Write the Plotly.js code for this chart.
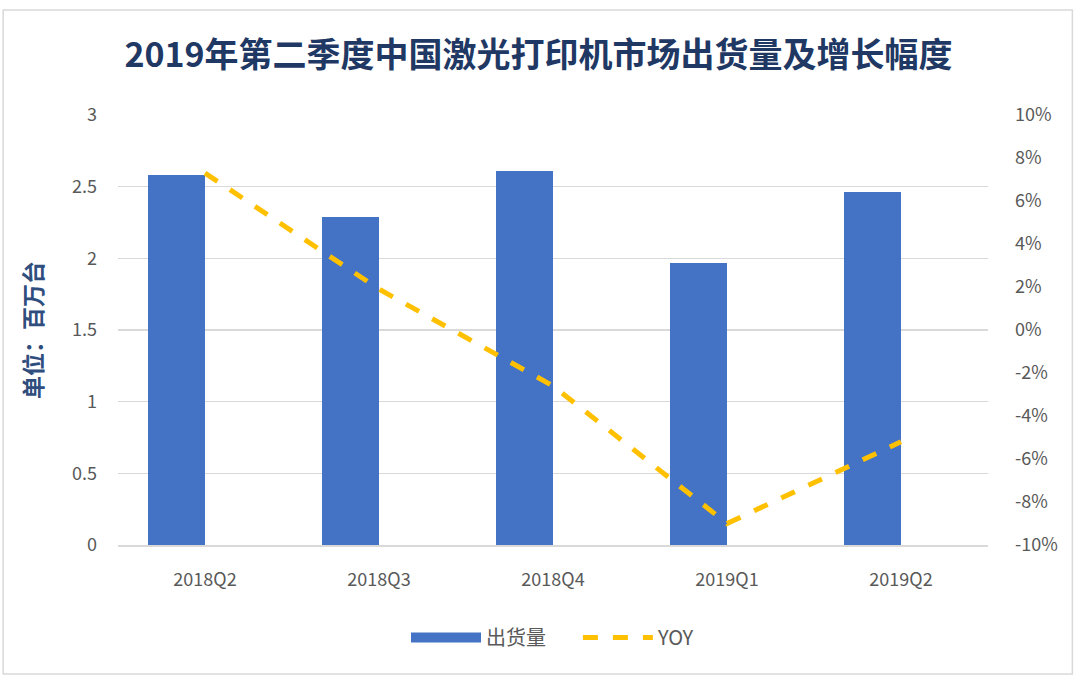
<!DOCTYPE html>
<html>
<head>
<meta charset="utf-8">
<script src="https://cdn.plot.ly/plotly-3.0.1.min.js"></script>
<style>
html,body{margin:0;padding:0;background:#fff;}
#chart{width:1077px;height:676px;}
</style>
</head>
<body>
<div id="chart"></div>
<script>
const categories = ["2018Q2", "2018Q3", "2018Q4", "2019Q1", "2019Q2"];
const shipments = [2.58, 2.29, 2.61, 1.97, 2.46];
const yoy = [7.3, 1.9, -2.6, -9.0, -5.2];
const leftTicks = [0, 0.5, 1, 1.5, 2, 2.5, 3];
const leftTickText = ["0", "0.5", "1", "1.5", "2", "2.5", "3"];
const rightTicks = [-10, -8, -6, -4, -2, 0, 2, 4, 6, 8, 10];
const rightTickText = ["-10%", "-8%", "-6%", "-4%", "-2%", "0%", "2%", "4%", "6%", "8%", "10%"];
const seriesNames = ["出货量", "YOY"];

const FONT = '"Noto Sans CJK SC", "Noto Sans", sans-serif';
const PAD = '\u00a0\u00a0\u00a0\u00a0\u00a0\u00a0';

const traces = [
  {
    type: 'bar',
    name: seriesNames[0],
    x: categories,
    y: shipments,
    marker: {color: '#4472C4'},
    width: 0.33,
    offset: -0.33,
    yaxis: 'y',
    showlegend: false,
    legendgroup: 'ship'
  },
  {
    type: 'scatter',
    mode: 'lines',
    name: seriesNames[0] + PAD,
    x: [null],
    y: [null],
    line: {color: '#4472C4', width: 16},
    yaxis: 'y',
    legendgroup: 'ship',
    showlegend: true
  },
  {
    type: 'scatter',
    mode: 'lines',
    name: seriesNames[1],
    x: categories,
    y: yoy,
    line: {color: '#FFC000', width: 5, dash: 'dash'},
    yaxis: 'y2'
  }
];

const layout = {
  width: 1077,
  height: 676,
  margin: {l: 118, r: 89, t: 115, b: 131},
  paper_bgcolor: '#ffffff',
  plot_bgcolor: '#ffffff',
  font: {family: FONT, color: '#595959', size: 18},
  title: {
    text: '<b>2019年第二季度中国激光打印机市场出货量及增长幅度</b>',
    x: 0.5, xanchor: 'center',
    y: 0.918, yanchor: 'middle',
    font: {family: FONT, size: 34, color: '#1F3864'}
  },
  xaxis: {
    type: 'category',
    showgrid: false,
    showline: true,
    linecolor: '#D9D9D9',
    linewidth: 1.5,
    ticks: '',
    tickfont: {size: 18, color: '#595959'},
    ticklabelstandoff: 18,
    zeroline: false
  },
  yaxis: {
    range: [0, 3],
    tickvals: leftTicks,
    ticktext: leftTickText,
    showgrid: true,
    gridcolor: '#D9D9D9',
    gridwidth: 1.5,
    zeroline: false,
    showline: false,
    ticks: '',
    tickfont: {size: 18, color: '#595959'},
    ticklabelstandoff: 20,
    title: {
      text: '<b>单位：百万台</b>',
      font: {size: 23, color: '#2F4E7E'},
      standoff: 22
    }
  },
  yaxis2: {
    overlaying: 'y',
    side: 'right',
    range: [-10, 10],
    tickvals: rightTicks,
    ticktext: rightTickText,
    showgrid: false,
    zeroline: false,
    showline: false,
    ticks: '',
    tickfont: {size: 18, color: '#595959'},
    ticklabelstandoff: 26
  },
  showlegend: true,
  legend: {
    orientation: 'h',
    x: 0.5, xanchor: 'center',
    y: -0.17, yanchor: 'top',
    font: {size: 20, color: '#595959'},
    itemwidth: 70,
    traceorder: 'normal'
  },
  bargap: 0,
  shapes: [
    {
      type: 'rect', xref: 'paper', yref: 'paper',
      x0: -0.132, x1: 1.097, y0: -0.3, y1: 1.244,
      line: {color: '#D9D9D9', width: 1.5},
      fillcolor: 'rgba(0,0,0,0)',
      layer: 'below'
    }
  ]
};

Plotly.newPlot('chart', traces, layout, {displayModeBar: false, staticPlot: true});
</script>
</body>
</html>
